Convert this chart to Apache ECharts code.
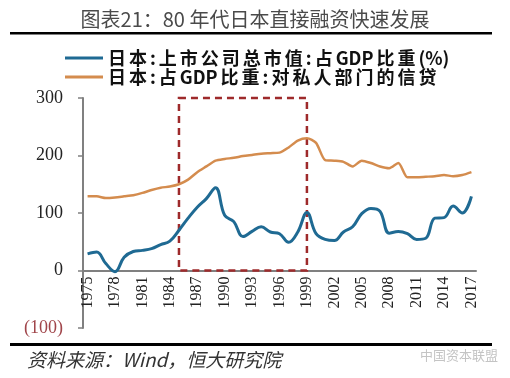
<!DOCTYPE html>
<html><head><meta charset="utf-8">
<script src="https://cdn.jsdelivr.net/npm/echarts@6/dist/echarts.min.js"></script>
<style>html,body{margin:0;padding:0;background:#fff}#c{width:510px;height:378px}</style>
</head><body><div id="c"></div>
<script>
const years = [];
for (let y = 1975; y <= 2017; y++) years.push(String(y));
const marketCap = [29,32,12,-2,23,33,35,38,45,51,70,91,110,125,144,96,85,59,68,76,67,64,49,67,101,64,54,52,67,76,99,108,103,65,68,64,54,56,91,92,112,100,129];
const privateCredit = [129,129,126,127,129,131,135,140,144,146,150,158,171,181,191,194,196,199,201,203,204,205,214,226,230,222,192,191,189,181,191,187,181,178,187,162,162,163,164,166,164,166,171];
const seriesNames = ['日本:上市公司总市值:占GDP比重(%)', '日本:占GDP比重:对私人部门的信贷'];
const yTicks = {min: -100, max: 300, interval: 100};
const boxRange = {from: '1985', to: '1999', top: 300, bottom: 0};

function spaced(name) {
  // widen spacing between CJK glyphs, keep "GDP" and "(%)" tight
  return name.replace(/([^A-Za-z(%)])(?=.)/g, '$1\u2006').replace(/([A-Z)])(?=[^A-Za-z%)])/g, '$1\u2006');
}

const chart = echarts.init(document.getElementById('c'));
chart.setOption({
  animation: false,
  backgroundColor: '#fff',
  title: {
    text: '图表21：80 年代日本直接融资快速发展',
    left: 'center', top: 4,
    textStyle: {fontFamily: 'Noto Sans CJK SC', fontWeight: 'normal', fontSize: 20, color: '#4a4a4a'}
  },
  legend: {
    orient: 'vertical', left: 60, top: 44, itemGap: 1,
    itemWidth: 38, itemHeight: 3,
    icon: 'rect',
    formatter: spaced,
    textStyle: {fontFamily: 'Noto Sans CJK SC', fontWeight: 'bold', fontSize: 18, color: '#111'},
    data: seriesNames
  },
  grid: {left: 83, right: 34, top: 98, bottom: 50, containLabel: false},
  xAxis: {
    type: 'category', data: years, boundaryGap: true,
    position: 'bottom', offset: -57.5,
    axisLine: {onZero: false, lineStyle: {color: '#808080', width: 2}},
    axisTick: {interval: 2, length: 5, lineStyle: {color: '#808080', width: 1.5}},
    axisLabel: {interval: 2, rotate: 90, fontFamily: 'Liberation Serif', fontSize: 16, color: '#222', margin: 6},
    splitLine: {show: false}
  },
  yAxis: {
    type: 'value', min: yTicks.min, max: yTicks.max, interval: yTicks.interval,
    axisLine: {show: true, lineStyle: {color: '#808080', width: 2}},
    axisTick: {show: true, length: 5, lineStyle: {color: '#808080', width: 1.5}},
    axisLabel: {
      fontFamily: 'Liberation Serif', fontSize: 18, margin: 20,
      formatter: v => v < 0 ? '(' + Math.abs(v) + ')' : String(v),
      color: v => v < 0 ? '#a0454a' : '#222'
    },
    splitLine: {show: false}
  },
  series: [
    {
      name: seriesNames[0], type: 'line', data: marketCap, smooth: 0.4,
      symbol: 'none', z: 3,
      lineStyle: {color: '#1f6a93', width: 3},
      itemStyle: {color: '#1f6a93'},
      markArea: {
        silent: true,
        itemStyle: {color: 'rgba(0,0,0,0)', borderColor: '#9e2a2b', borderWidth: 2.5, borderType: [7, 5]},
        data: [[{xAxis: boxRange.from, yAxis: boxRange.top}, {xAxis: boxRange.to, yAxis: boxRange.bottom}]]
      }
    },
    {
      name: seriesNames[1], type: 'line', data: privateCredit, smooth: 0.25,
      symbol: 'none', z: 2,
      lineStyle: {color: '#d48c4e', width: 2.5},
      itemStyle: {color: '#d48c4e'}
    }
  ],
  graphic: [
    {type: 'rect', shape: {x: 10, y: 32, width: 482, height: 2.5}, style: {fill: '#000'}},
    {type: 'rect', shape: {x: 10, y: 343, width: 482, height: 3}, style: {fill: '#000'}},
    {type: 'text', left: 27, top: 350, style: {text: '资料来源：Wind，恒大研究院', font: 'italic 19px "Noto Sans CJK SC"', fill: '#333'}},
    {type: 'text', left: 420, top: 349, style: {text: '中国资本联盟', font: '13px "Noto Sans CJK SC"', fill: '#c4c4c4'}}
  ]
});
</script></body></html>
